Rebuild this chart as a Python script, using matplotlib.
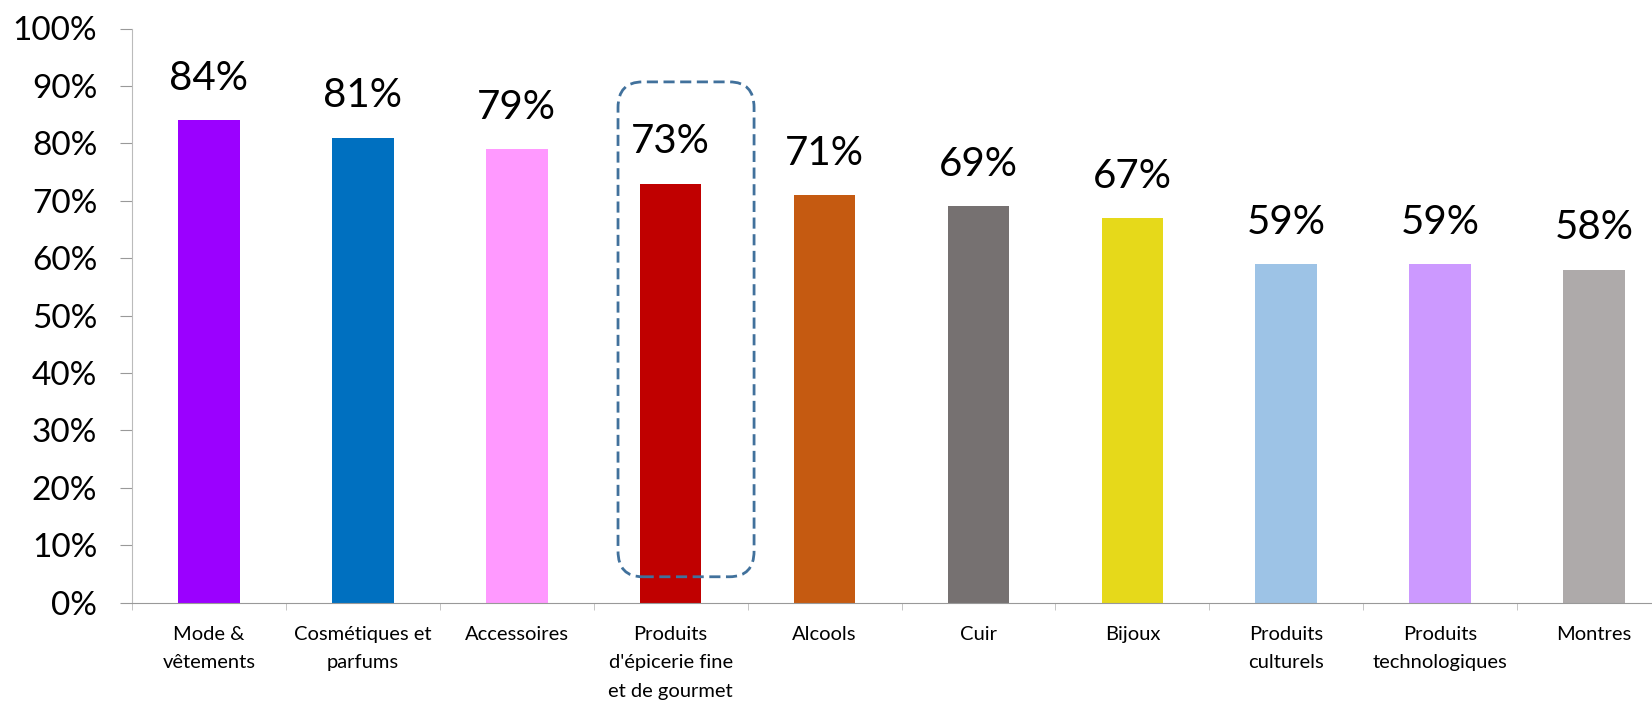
import matplotlib.pyplot as plt
import numpy as np
from matplotlib.patches import FancyBboxPatch
from matplotlib.ticker import FixedLocator

categories = ["Mode &\nvêtements", "Cosmétiques et\nparfums", "Accessoires",
              "Produits\nd'épicerie fine\net de gourmet", "Alcools", "Cuir",
              "Bijoux", "Produits\nculturels", "Produits\ntechnologiques", "Montres"]
values = [84, 81, 79, 73, 71, 69, 67, 59, 59, 58]
colors = ["#9B00FF", "#0070C0", "#FF99FF", "#C00000", "#C55A11",
          "#767171", "#E6D91A", "#9DC3E6", "#CC99FF", "#AEAAAA"]
highlight = 3

plt.rcParams['font.family'] = ['Lato', 'DejaVu Sans']

fig = plt.figure(figsize=(16.52, 7.04), dpi=100)
ax = fig.add_axes([132 / 1652, 101.4 / 704, 1520 / 1652, 574.1 / 704])

x = np.arange(len(values))
ax.bar(x, values, width=0.4, color=colors)

for xi, v in zip(x, values):
    ax.annotate(f"{v}%", (xi, v), xytext=(0, 30), textcoords="offset points",
                ha="center", va="center", fontsize=29, color="black")

# cadre pointillé autour de la catégorie mise en avant
box = FancyBboxPatch((highlight - 0.342, 4.5), 0.884, 86.2,
                     boxstyle="round,pad=0,rounding_size=0.16",
                     mutation_aspect=28, fill=False, edgecolor="#41719C",
                     linestyle=(0, (4, 2)), linewidth=2, clip_on=False, zorder=5)
ax.add_patch(box)

ax.set_xlim(-0.5, -0.5 + 1520 / 153.9)
ax.set_ylim(0, 100)
ax.set_yticks(np.arange(0, 101, 10))
ax.set_yticklabels([f"{t}%" for t in range(0, 101, 10)], fontsize=24)
ax.set_xticks(x)
ax.set_xticklabels(categories, fontsize=14.5, linespacing=1.8, va="top")
ax.xaxis.set_minor_locator(FixedLocator(np.arange(-0.5, 10, 1)))
ax.tick_params(axis="x", which="major", length=0, pad=17)
ax.tick_params(axis="x", which="minor", length=5, color="#BBBBBB", direction="out")
ax.tick_params(axis="y", length=9, color="#999999", pad=16)

for s in ["top", "right"]:
    ax.spines[s].set_visible(False)
ax.spines["left"].set_color("#BBBBBB")
ax.spines["left"].set_linestyle((0, (2, 1)))
ax.spines["bottom"].set_color("#999999")

plt.savefig("out.png", dpi=100)
